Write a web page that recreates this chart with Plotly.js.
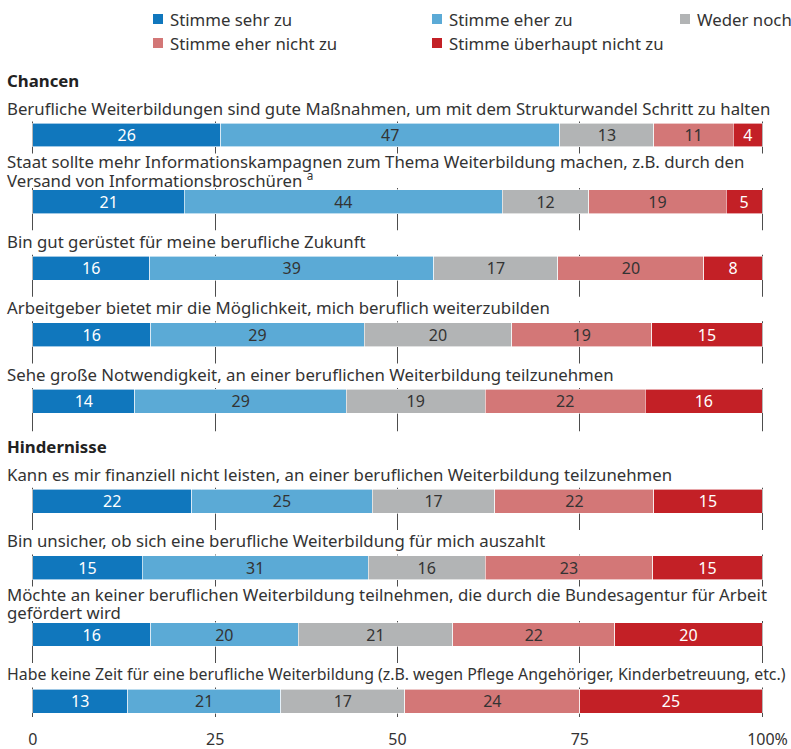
<!DOCTYPE html>
<html><head><meta charset="utf-8">
<script src="https://cdn.plot.ly/plotly-3.0.1.min.js"></script>
<style>html,body{margin:0;padding:0;background:#fff}</style>
</head><body><div id="chart" style="width:791px;height:749px"></div>
<script>
// ---------- data ----------
const seriesNames = ["Stimme sehr zu", "Stimme eher zu", "Weder noch", "Stimme eher nicht zu", "Stimme überhaupt nicht zu"];
const groupNames = ["Chancen", "Hindernisse"];
const statements = [
  "Berufliche Weiterbildungen sind gute Maßnahmen, um mit dem Strukturwandel Schritt zu halten",
  "Staat sollte mehr Informationskampagnen zum Thema Weiterbildung machen, z.B. durch den<br>Versand von Informationsbroschüren <sup>a</sup>",
  "Bin gut gerüstet für meine berufliche Zukunft",
  "Arbeitgeber bietet mir die Möglichkeit, mich beruflich weiterzubilden",
  "Sehe große Notwendigkeit, an einer beruflichen Weiterbildung teilzunehmen",
  "Kann es mir finanziell nicht leisten, an einer beruflichen Weiterbildung teilzunehmen",
  "Bin unsicher, ob sich eine berufliche Weiterbildung für mich auszahlt",
  "Möchte an keiner beruflichen Weiterbildung teilnehmen, die durch die Bundesagentur für Arbeit<br>gefördert wird",
  "Habe keine Zeit für eine berufliche Weiterbildung (z.B. wegen Pflege Angehöriger, Kinderbetreuung, etc.)"
];
const statementGroup = [0, 0, 0, 0, 0, 1, 1, 1, 1];
const sehrZu          = [26, 21, 16, 16, 14, 22, 15, 16, 13];
const eherZu          = [47, 44, 39, 29, 29, 25, 31, 20, 21];
const wederNoch       = [13, 12, 17, 20, 19, 17, 16, 21, 17];
const eherNichtZu     = [11, 19, 20, 19, 22, 22, 23, 22, 24];
const ueberhauptNicht = [4, 5, 8, 15, 16, 15, 15, 20, 25];
const tickValues = [0, 25, 50, 75, 100];
const tickLabels = ["0", "25", "50", "75", "\u2002\u2009100%"];

// ---------- styling / layout ----------
const FONT = "Noto Sans, sans-serif";
const FS = 16.8;      // labels, legend
const FS_NUM = 16;    // numbers in bars, tick labels
const TEXT = "#333333";
const colors = ["#1077bd", "#5baad6", "#b2b4b5", "#d37777", "#c32026"];
const textColors = ["#ffffff", "#333333", "#333333", "#333333", "#ffffff"];
const seriesValues = [sehrZu, eherZu, wederNoch, eherNichtZu, ueberhauptNicht];

const W = 791, H = 749;
const UNIT = 66.6;          // px per row
const GROUP_GAP = 0.5;      // extra rows between groups
const PLOT_TOP = 121, PLOT_BOTTOM = 717;
const FIRST_OFFSET = 14;    // px from plot top to first bar centre
const plotLeft = 31, plotRight = W - 27;
const plotW = plotRight - plotLeft, plotH = PLOT_BOTTOM - PLOT_TOP;
const LABEL_MAX_W = 778;    // labels run from x=6 to at most x=784

const yPos = statements.map((s, i) => i + statementGroup[i] * GROUP_GAP);
const yTop = -FIRST_OFFSET / UNIT;
const yBottom = yTop + plotH / UNIT;

// shrink a label's font if it would not fit in the available width
const measureCtx = document.createElement("canvas").getContext("2d");
function fitSize(txt) {
  measureCtx.font = FS + "px 'Noto Sans'";
  const w = measureCtx.measureText(txt.replace(/<[^>]+>/g, "")).width;
  return w > LABEL_MAX_W ? FS * LABEL_MAX_W / w : FS;
}

const traces = seriesValues.map((vals, j) => ({
  type: "bar",
  orientation: "h",
  name: seriesNames[j],
  x: vals,
  y: yPos,
  text: vals.map(String),
  texttemplate: "%{text}",
  textposition: "inside",
  insidetextanchor: "middle",
  constraintext: "none",
  textangle: 0,
  textfont: {family: FONT, size: FS_NUM, color: textColors[j]},
  marker: {color: colors[j], line: {color: "#ffffff", width: 0.6}},
  width: 0.36,
  hoverinfo: "skip",
  showlegend: false
}));

const annotations = [];
const shapes = [];
statements.forEach((s, i) => {
  const lines = s.split("<br>");
  lines.forEach((ln, k) => {
    const fromBottom = lines.length - 1 - k;
    annotations.push({
      xref: "x", x: 0, xanchor: "left", xshift: -28,
      yref: "y", y: yPos[i], yanchor: "middle",
      yshift: lines.length === 2 ? 22 + 18 * fromBottom : 27,
      text: ln, showarrow: false, align: "left",
      font: {family: FONT, size: fitSize(ln), color: TEXT}
    });
  });
  const firstInGroup = i === 0 || statementGroup[i] !== statementGroup[i - 1];
  const topPx = firstInGroup ? 70 : (lines.length === 2 ? 48 : 38);
  // white band behind the label rows, hiding the grid there
  shapes.push({
    type: "rect", layer: "between",
    xref: "x", x0: -1, x1: 101,
    yref: "y", y0: yPos[i] - topPx / UNIT, y1: yPos[i] - 13.5 / UNIT,
    fillcolor: "#ffffff", line: {width: 0}
  });
  if (firstInGroup) {
    annotations.push({
      xref: "x", x: 0, xanchor: "left", xshift: -28,
      yref: "y", y: yPos[i], yanchor: "middle", yshift: 55,
      text: "<b>" + groupNames[statementGroup[i]] + "</b>", showarrow: false,
      font: {family: FONT, size: FS, color: "#222222"}
    });
  }
});

// legend (3 columns, 2 rows)
const legendColLeft = [153, 432, 680];
const legendRowY = [19, 43];
const SQ = 10;
const pxToPaperX = px => (px - plotLeft) / plotW;
const pxToPaperY = py => (PLOT_BOTTOM - py) / plotH;
seriesNames.forEach((name, j) => {
  const col = j < 3 ? j : j - 3;
  const row = j < 3 ? 0 : 1;
  const lx = legendColLeft[col], cy = legendRowY[row];
  shapes.push({
    type: "rect", xref: "paper", yref: "paper",
    x0: pxToPaperX(lx), x1: pxToPaperX(lx + SQ),
    y0: pxToPaperY(cy + SQ / 2), y1: pxToPaperY(cy - SQ / 2),
    fillcolor: colors[j], line: {width: 0}
  });
  annotations.push({
    xref: "paper", yref: "paper", x: pxToPaperX(lx + SQ + 5), y: pxToPaperY(cy),
    xanchor: "left", yanchor: "middle", showarrow: false,
    text: name, font: {family: FONT, size: FS, color: TEXT}
  });
});

const layout = {
  width: W, height: H,
  margin: {l: plotLeft, r: W - plotRight, t: PLOT_TOP, b: H - PLOT_BOTTOM, autoexpand: false},
  paper_bgcolor: "#ffffff", plot_bgcolor: "#ffffff",
  barmode: "stack",
  barnorm: "percent",
  showlegend: false,
  font: {family: FONT, size: FS, color: TEXT},
  xaxis: {
    range: [-0.25, 100.25], tickvals: tickValues, ticktext: tickLabels,
    showgrid: true, gridcolor: "#4d4d4d", gridwidth: 1,
    zeroline: false, showline: false, ticks: "",
    tickfont: {family: FONT, size: FS_NUM, color: TEXT},
    ticklabelstandoff: 11, fixedrange: true
  },
  yaxis: {
    range: [yBottom, yTop], showgrid: false, zeroline: false,
    showticklabels: false, ticks: "", fixedrange: true
  },
  annotations: annotations,
  shapes: shapes
};

Plotly.newPlot("chart", traces, layout, {displayModeBar: false, responsive: false});
</script></body></html>
